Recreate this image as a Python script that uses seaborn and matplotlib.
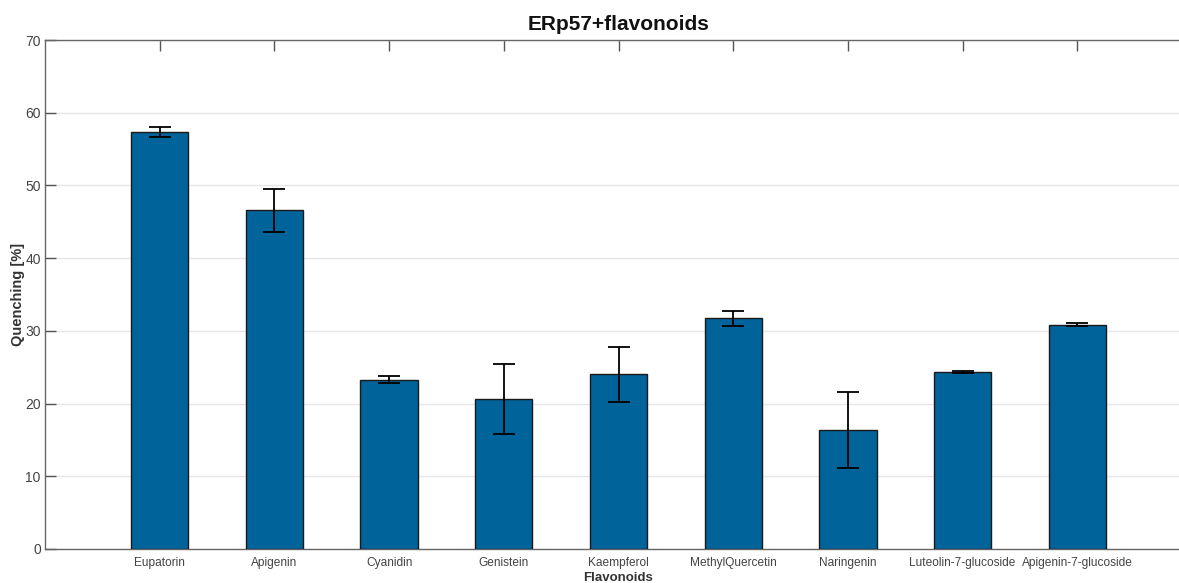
import matplotlib
matplotlib.use("Agg")
import matplotlib.pyplot as plt
import seaborn as sns
import pandas as pd

categories = ["Eupatorin", "Apigenin", "Cyanidin", "Genistein", "Kaempferol",
              "MethylQuercetin", "Naringenin", "Luteolin-7-glucoside", "Apigenin-7-glucoside"]
quenching = [57.4, 46.6, 23.3, 20.6, 24.0, 31.7, 16.35, 24.3, 30.85]
errors = [0.7, 2.95, 0.5, 4.8, 3.75, 1.0, 5.2, 0.15, 0.18]
y_ticks = [0, 10, 20, 30, 40, 50, 60, 70]

sns.set_theme(style="white")
plt.rcParams['font.family'] = ['Liberation Sans', 'DejaVu Sans']

df = pd.DataFrame({"Flavonoids": categories, "Quenching": quenching})

fig = plt.figure(figsize=(11.79, 5.83), dpi=100)
ax = fig.add_axes([45 / 1179, 34 / 583, (1192 - 45) / 1179, 509 / 583])

sns.barplot(data=df, x="Flavonoids", y="Quenching", color="#006399", saturation=1,
            width=0.5, edgecolor="#1a1a1a", linewidth=1.0, ax=ax, zorder=3)
ax.errorbar(range(len(categories)), quenching, yerr=errors, fmt="none",
            ecolor="black", elinewidth=1.3, capsize=8, capthick=1.3, zorder=4)

ax.set_xlim(-1, 9)
ax.set_ylim(0, 70)
ax.set_yticks(y_ticks)
ax.yaxis.grid(True, color="#e6e6e6", linewidth=1.0, zorder=0)
ax.set_axisbelow(True)

for side in ["left", "top", "bottom"]:
    ax.spines[side].set_visible(True)
    ax.spines[side].set_color("#666666")
    ax.spines[side].set_linewidth(1.0)
ax.spines["right"].set_visible(False)

ax.tick_params(axis="both", direction="in", length=8, width=1, color="#555555",
               labelcolor="#444444", top=True, left=True, bottom=True)
ax.tick_params(axis="x", pad=6, labelsize=8.6)
ax.tick_params(axis="y", pad=3, labelsize=10)

ax.set_title("ERp57+flavonoids", fontsize=15, fontweight="bold", color="#111111", pad=7)
ax.set_xlabel("Flavonoids", fontsize=9.5, fontweight="bold", color="#333333", labelpad=2)
ax.set_ylabel("Quenching [%]", fontsize=10.5, fontweight="bold", color="#333333", labelpad=0)

fig.savefig("out.png", dpi=100)
